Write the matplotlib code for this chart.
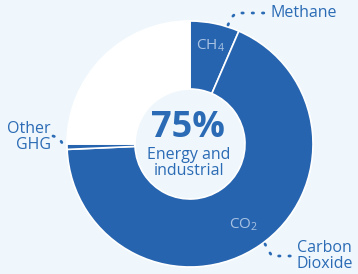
import matplotlib.pyplot as plt

# Datos del grafico
labels = ['CH4', 'CO2', 'Other GHG', 'Rest']
shares = [6.5, 67.8, 0.7, 25.0]
center_value = '75%'
center_text = 'Energy and\nindustrial'

BLUE = '#2764b0'
TEXT = '#2b6bb5'
SUB = '#a7c2e2'
BG = '#eff7fc'

plt.rcParams['font.family'] = ['Open Sans', 'DejaVu Sans']
plt.rcParams['mathtext.fontset'] = 'custom'
plt.rcParams['mathtext.rm'] = 'Open Sans'

fig = plt.figure(figsize=(3.58, 2.74), dpi=100, facecolor=BG)
ax = fig.add_axes([0, 0, 1, 1])
ax.set_facecolor(BG)

cx, cy, r = 190, 130, 123
colors = [BLUE, BLUE, BLUE, 'white']
ax.pie(shares, colors=colors, startangle=90, counterclock=False,
       center=(cx, cy), radius=r, frame=True,
       wedgeprops=dict(width=68, edgecolor='white', linewidth=1.2))
ax.set_xlim(0, 358)
ax.set_ylim(0, 274)
ax.set_aspect('equal')
ax.axis('off')

# Texto central
ax.text(cx - 2, 146, center_value, ha='center', va='center',
        fontsize=26, fontweight='bold', color=TEXT)
ax.text(cx - 1, 111, center_text, ha='center', va='center',
        fontsize=11.5, color=TEXT, linespacing=0.95)

# Etiquetas dentro de los segmentos
ax.text(210, 228, 'CH$_\\mathregular{4}$', ha='center', va='center',
        fontsize=11, color=SUB)
ax.text(244, 49, 'CO$_\\mathregular{2}$', ha='center', va='center',
        fontsize=11, color=SUB)

# Etiquetas externas
ax.text(271, 261, 'Methane', ha='left', va='center', fontsize=11.5, color=TEXT)
ax.text(51, 137, 'Other\nGHG', ha='right', va='center', fontsize=11.5,
        color=TEXT, linespacing=0.92)
ax.text(297, 18, 'Carbon\nDioxide', ha='left', va='center', fontsize=11.5,
        color=TEXT, linespacing=0.92)

# Lineas punteadas
dots = dict(color=TEXT, linewidth=2.0, linestyle=(0, (0.5, 3.2)),
            dash_capstyle='round')
ax.plot([228, 231, 236, 266], [249, 256, 261, 261], **dots)
ax.plot([53, 59, 64], [138, 136, 128], **dots)
ax.plot([265, 268, 272, 295], [30, 24, 18, 18], **dots)

fig.savefig('out.png', dpi=100, facecolor=BG)
